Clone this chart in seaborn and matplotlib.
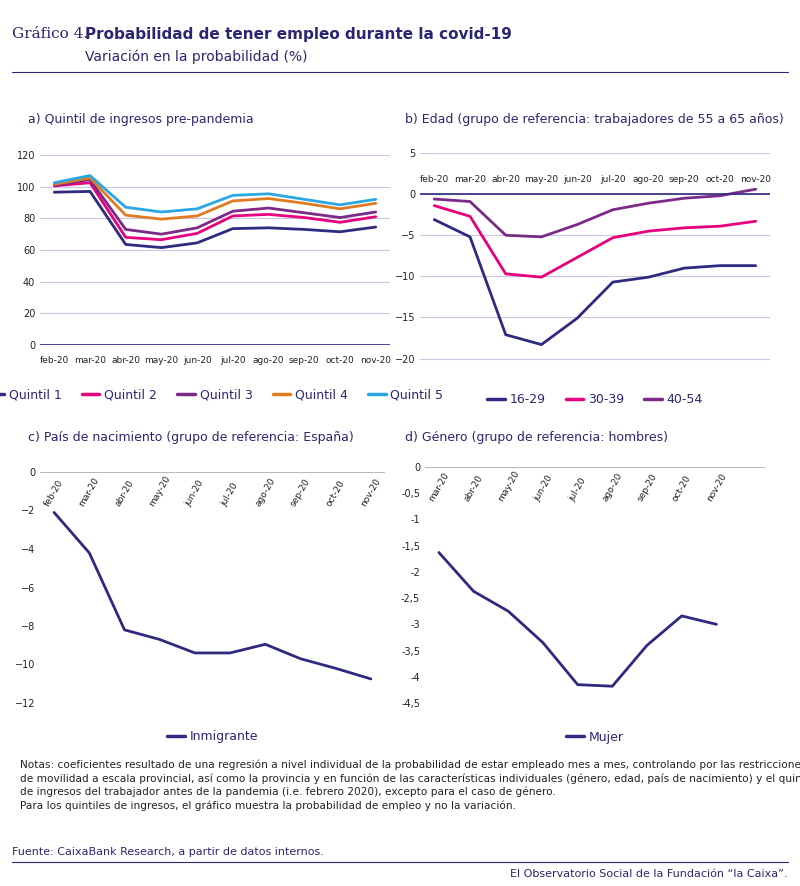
import numpy as np
import pandas as pd
import matplotlib
matplotlib.use("Agg")
import matplotlib.pyplot as plt
import seaborn as sns

meses = ["feb-20", "mar-20", "abr-20", "may-20", "jun-20", "jul-20", "ago-20", "sep-20", "oct-20", "nov-20"]

quintil_1 = [96.5, 97, 63.5, 61.5, 64.5, 73.5, 74, 73, 71.5, 74.5]
quintil_2 = [100.5, 102.5, 68, 66.5, 70.5, 81.5, 82.5, 80.5, 77.5, 81]
quintil_3 = [101, 104.5, 73, 70, 74, 84.5, 86.5, 83.5, 80.5, 84]
quintil_4 = [101.5, 105.5, 82, 79.5, 81.5, 91, 92.5, 89.5, 86, 89.5]
quintil_5 = [102.5, 107, 87, 84, 86, 94.5, 95.5, 92, 88.5, 92]

edad_16_29 = [-3.1, -5.2, -17.1, -18.3, -15.1, -10.7, -10.1, -9.0, -8.7, -8.7]
edad_30_39 = [-1.4, -2.7, -9.7, -10.1, -7.7, -5.3, -4.5, -4.1, -3.9, -3.3]
edad_40_54 = [-0.6, -0.9, -5.0, -5.2, -3.7, -1.9, -1.1, -0.5, -0.2, 0.6]

inmigrante = [-2.1, -4.2, -8.2, -8.7, -9.4, -9.4, -8.95, -9.7, -10.2, -10.75]
meses_mujer = meses[1:]
mujer = [-1.63, -2.37, -2.75, -3.35, -4.15, -4.18, -3.4, -2.84, -3.0]

NAVY = "#2e2a7f"
PINK = "#e6007e"
PURPLE = "#7b2a87"
ORANGE = "#e07b21"
CYAN = "#2aa7e0"
TXT = "#2b2672"

sns.set_style("white")
plt.rcParams["font.family"] = ["DejaVu Sans"]

W, H = 800, 886
fig = plt.figure(figsize=(W / 100, H / 100), dpi=100)


def ax_px(x0, y0, x1, y1):
    return fig.add_axes([x0 / W, 1 - y1 / H, (x1 - x0) / W, (y1 - y0) / H])


def long_df(series, labels, xs):
    rows = []
    for name, vals in zip(labels, series):
        for m, v in zip(xs, vals):
            rows.append({"mes": m, "valor": v, "serie": name})
    return pd.DataFrame(rows)


def base_style(ax, grid=True):
    for s in ax.spines.values():
        s.set_visible(False)
    ax.tick_params(length=0, labelsize=7, colors="#222222")
    if grid:
        ax.yaxis.grid(True, color="#c8c6e0", lw=0.8)
    ax.set_xlabel("")
    ax.set_ylabel("")


def legend_below(ax, y, ncol):
    leg = ax.legend(loc="upper center", bbox_to_anchor=(0.5, y), ncol=ncol, frameon=False,
                    fontsize=9, handlelength=1.4, columnspacing=1.6, handletextpad=0.4)
    for t in leg.get_texts():
        t.set_color(TXT)
    for l in leg.get_lines():
        l.set_linewidth(2.5)


# a) quintiles
ax = ax_px(40, 155, 390, 345)
df = long_df([quintil_1, quintil_2, quintil_3, quintil_4, quintil_5],
             ["Quintil 1", "Quintil 2", "Quintil 3", "Quintil 4", "Quintil 5"], meses)
sns.lineplot(data=df, x="mes", y="valor", hue="serie", ax=ax, lw=2,
             palette=[NAVY, PINK, PURPLE, ORANGE, CYAN], sort=False)
ax.set_ylim(0, 120)
ax.set_yticks(range(0, 121, 20))
ax.set_xlim(-0.4, 9.4)
base_style(ax)
ax.axhline(0, color=NAVY, lw=1.2)
ax.tick_params(axis="x", labelsize=6.5, pad=8)
legend_below(ax, -0.17, 5)

# b) edad
ax = ax_px(420, 153, 770, 375)
df = long_df([edad_16_29, edad_30_39, edad_40_54], ["16-29", "30-39", "40-54"], meses)
sns.lineplot(data=df, x="mes", y="valor", hue="serie", ax=ax, lw=2,
             palette=[NAVY, PINK, PURPLE], sort=False)
ax.set_ylim(-22, 5)
ax.set_yticks([5, 0, -5, -10, -15, -20])
ax.set_xlim(-0.4, 9.4)
base_style(ax)
ax.axhline(0, color=NAVY, lw=1.2)
ax.xaxis.set_ticks_position("top")
ax.tick_params(axis="x", labelsize=6.5, labeltop=True, labelbottom=False, pad=-22)
legend_below(ax, -0.03, 3)

# c) pais de nacimiento
ax = ax_px(40, 472, 385, 703)
df = long_df([inmigrante], ["Inmigrante"], meses)
sns.lineplot(data=df, x="mes", y="valor", hue="serie", ax=ax, lw=2, palette=[NAVY], sort=False)
ax.set_ylim(-12, 0)
ax.set_yticks(range(0, -13, -2))
ax.set_xlim(-0.4, 9.4)
base_style(ax, grid=False)
ax.axhline(0, color="#bbbbbb", lw=0.8)
ax.xaxis.set_ticks_position("top")
ax.tick_params(axis="x", labelsize=6.5, labeltop=True, labelbottom=False, pad=-26)
for t in ax.get_xticklabels():
    t.set_rotation(60)
    t.set_ha("center")
legend_below(ax, -0.07, 1)

# d) genero
ax = ax_px(425, 467, 765, 703)
df = long_df([mujer], ["Mujer"], meses_mujer)
sns.lineplot(data=df, x="mes", y="valor", hue="serie", ax=ax, lw=2, palette=[NAVY], sort=False)
ax.set_ylim(-4.5, 0)
ax.set_yticks(np.arange(0, -4.6, -0.5))
ax.set_yticklabels(["0", "-0,5", "-1", "-1,5", "-2", "-2,5", "-3", "-3,5", "-4", "-4,5"])
ax.set_xlim(-0.4, 9.4)
base_style(ax, grid=False)
ax.axhline(0, color="#bbbbbb", lw=0.8)
ax.xaxis.set_ticks_position("top")
ax.tick_params(axis="x", labelsize=6.5, labeltop=True, labelbottom=False, pad=-26)
for t in ax.get_xticklabels():
    t.set_rotation(60)
    t.set_ha("center")
legend_below(ax, -0.07, 1)

# titulos y textos
fig.text(12 / W, 1 - 34 / H, "Gráfico 4.", fontsize=11, color=TXT, family="DejaVu Serif", va="center")
fig.text(85 / W, 1 - 34 / H, "Probabilidad de tener empleo durante la covid-19", fontsize=11,
         color=TXT, weight="bold", va="center")
fig.text(85 / W, 1 - 57 / H, "Variación en la probabilidad (%)", fontsize=10, color=TXT, va="center")
fig.add_artist(plt.Line2D([12 / W, 788 / W], [1 - 72 / H, 1 - 72 / H], color=TXT, lw=0.8))

fig.text(28 / W, 1 - 120 / H, "a) Quintil de ingresos pre-pandemia", fontsize=9, color=TXT, va="center")
fig.text(405 / W, 1 - 120 / H, "b) Edad (grupo de referencia: trabajadores de 55 a 65 años)", fontsize=9,
         color=TXT, va="center")
fig.text(28 / W, 1 - 438 / H, "c) País de nacimiento (grupo de referencia: España)", fontsize=9,
         color=TXT, va="center")
fig.text(405 / W, 1 - 438 / H, "d) Género (grupo de referencia: hombres)", fontsize=9, color=TXT, va="center")

notas = ("Notas: coeficientes resultado de una regresión a nivel individual de la probabilidad de estar empleado mes a mes, controlando por las restricciones\n"
         "de movilidad a escala provincial, así como la provincia y en función de las características individuales (género, edad, país de nacimiento) y el quintil\n"
         "de ingresos del trabajador antes de la pandemia (i.e. febrero 2020), excepto para el caso de género.\n"
         "Para los quintiles de ingresos, el gráfico muestra la probabilidad de empleo y no la variación.")
fig.text(20 / W, 1 - 760 / H, notas, fontsize=7.6, color="#222222", va="top", linespacing=1.35)

fig.text(12 / W, 1 - 852 / H, "Fuente: CaixaBank Research, a partir de datos internos.", fontsize=8, color=TXT, va="center")
fig.add_artist(plt.Line2D([12 / W, 788 / W], [1 - 862 / H, 1 - 862 / H], color=TXT, lw=0.8))
fig.text(788 / W, 1 - 874 / H, "El Observatorio Social de la Fundación “la Caixa”.", fontsize=8, color=TXT,
         va="center", ha="right")

fig.savefig("out.png", dpi=100)
